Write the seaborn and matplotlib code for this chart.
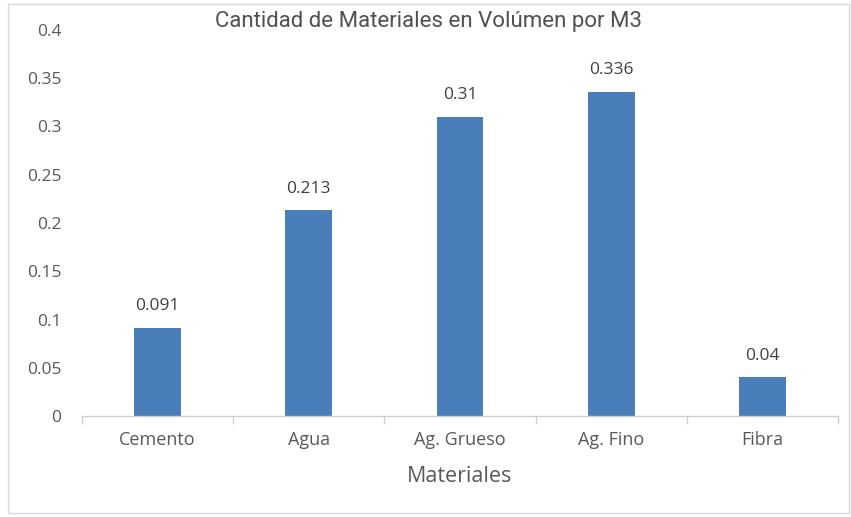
import matplotlib
matplotlib.use("Agg")
import matplotlib.pyplot as plt
import seaborn as sns
import pandas as pd
from matplotlib.patches import Rectangle

materiales = ["Cemento", "Agua", "Ag. Grueso", "Ag. Fino", "Fibra"]
volumen = [0.091, 0.213, 0.31, 0.336, 0.04]
etiquetas = ["0.091", "0.213", "0.31", "0.336", "0.04"]
yticks = [0, 0.05, 0.1, 0.15, 0.2, 0.25, 0.3, 0.35, 0.4]
yticklabels = ["0", "0.05", "0.1", "0.15", "0.2", "0.25", "0.3", "0.35", "0.4"]

df = pd.DataFrame({"Materiales": materiales, "Volumen": volumen})

sns.set_style("white")
plt.rcParams["font.family"] = ["Open Sans", "DejaVu Sans"]

TEXT = "#595959"
BAR = "#4A7EBB"

fig = plt.figure(figsize=(8.51, 5.17), dpi=100)
ax = fig.add_axes([82 / 851, 1 - 416 / 517, (838 - 82) / 851, (416 - 30) / 517])

sns.barplot(data=df, x="Materiales", y="Volumen", color=BAR, width=0.31,
            saturation=1, ax=ax, edgecolor="none")

ax.set_xlim(-0.5, len(materiales) - 0.5)
ax.set_ylim(0, 0.4)
ax.set_yticks(yticks)
ax.set_yticklabels(yticklabels, color=TEXT, fontsize=12.5)
ax.tick_params(axis="y", length=0, pad=15)

# category separators along the baseline
ax.set_xticks([i - 0.5 for i in range(len(materiales) + 1)], minor=True)
ax.set_xticks(range(len(materiales)))
ax.set_xticklabels(materiales, color=TEXT, fontsize=13)
ax.tick_params(axis="x", which="major", length=0, pad=11)
ax.tick_params(axis="x", which="minor", length=6, color="#D0D0D0", width=1,
               direction="out", bottom=True)

for s in ["top", "right", "left"]:
    ax.spines[s].set_visible(False)
ax.spines["bottom"].set_color("#D0D0D0")
ax.spines["bottom"].set_linewidth(1)

for p, lab in zip(ax.patches, etiquetas):
    ax.annotate(lab, (p.get_x() + p.get_width() / 2, p.get_height()),
                xytext=(0, 10), textcoords="offset points", ha="center",
                va="bottom", color="#404040", fontsize=12.5)

ax.set_xlabel("Materiales", color=TEXT, fontsize=15.5, labelpad=12)
ax.set_ylabel("")

fig.text(428 / 851, 1 - 22 / 517, "Cantidad de Materiales en Volúmen por M3",
         ha="center", va="center", fontsize=16, color="#505050",
         family=["Roboto", "DejaVu Sans"])

fig.add_artist(Rectangle((8 / 851, 4 / 517), (849 - 8) / 851, (513 - 4) / 517,
                         transform=fig.transFigure, fill=False,
                         edgecolor="#D9D9D9", linewidth=1))

fig.savefig("out.png", dpi=100)
